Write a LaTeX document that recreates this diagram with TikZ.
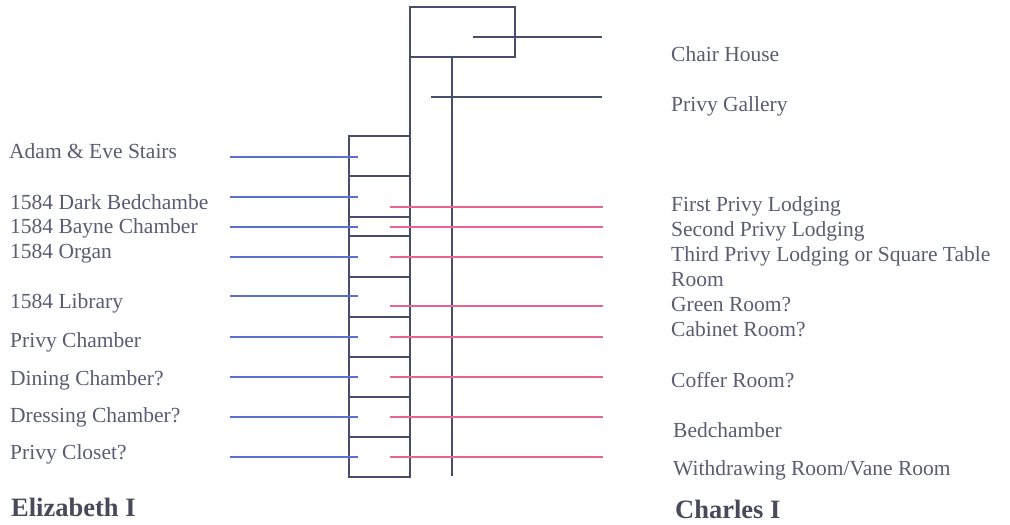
\documentclass[tikz,border=0pt]{standalone}
\usepackage{fontspec}
\setmainfont{Liberation Serif}
\definecolor{txt}{HTML}{595C72}
\definecolor{wall}{HTML}{474D6B}
\definecolor{eliz}{HTML}{5B6FCF}
\definecolor{charl}{HTML}{E8648C}
\tikzset{
  wallline/.style={draw=wall, line width=1.5pt},
  elizline/.style={draw=eliz, line width=1.4pt},
  charlline/.style={draw=charl, line width=1.4pt},
  lbl/.style={anchor=base west, inner sep=0pt, text=txt, font=\fontsize{21.5}{26}\selectfont},
  head/.style={anchor=base west, inner sep=0pt, text=txt!80!black, font=\fontsize{26.5}{30}\selectfont\bfseries}
}
\begin{document}
\begin{tikzpicture}[x=1pt,y=-1pt]
\useasboundingbox (0,0) rectangle (1010,525);
% building outline
\draw[wallline] (410,57) -- (410,7) -- (515,7) -- (515,57) -- (410,57);
\draw[wallline] (410,57) -- (410,477) -- (349,477) -- (349,136) -- (410,136);
\draw[wallline] (452,57) -- (452,476);
\foreach \y in {176,217,236,277,317,357,397,437}
  \draw[wallline] (349,\y) -- (411,\y);
% Charles I upper lines
\draw[wallline] (473,37) -- (602,37);
\draw[wallline] (431,97) -- (602,97);
% Elizabeth lines
\foreach \y in {157,197,227,257,296,337,377,417,457}
  \draw[elizline] (230,\y) -- (358,\y);
% Charles lines
\foreach \y in {207,227,257,306,337,377,417,457}
  \draw[charlline] (390,\y) -- (603,\y);
% left labels
\node[lbl] (l1) at (9,158) {Adam \& Eve Stairs};
\node[lbl] (l2) at (10,209) {1584 Dark Bedchambe};
\node[lbl] (l3) at (10,233) {1584 Bayne Chamber};
\node[lbl] (l4) at (10,258) {1584 Organ};
\node[lbl] (l5) at (10,308) {1584 Library};
\node[lbl] (l6) at (10,347) {Privy Chamber};
\node[lbl] (l7) at (10,385) {Dining Chamber?};
\node[lbl] (l8) at (10,422) {Dressing Chamber?};
\node[lbl] (l9) at (10,459) {Privy Closet?};
\node[head] (eliz) at (11,516) {Elizabeth I};
% right labels
\node[lbl] (r1) at (671,61) {Chair House};
\node[lbl] (r2) at (671,111) {Privy Gallery};
\node[lbl] (r3) at (671,211) {First Privy Lodging};
\node[lbl] (r4) at (671,236) {Second Privy Lodging};
\node[lbl] (r5) at (671,261) {Third Privy Lodging or Square Table};
\node[lbl] (r6) at (671,286) {Room};
\node[lbl] (r7) at (671,311) {Green Room?};
\node[lbl] (r8) at (671,336) {Cabinet Room?};
\node[lbl] (r9) at (671,387) {Coffer Room?};
\node[lbl] (r10) at (673,437) {Bedchamber};
\node[lbl] (r11) at (673,475) {Withdrawing Room/Vane Room};
\node[head] (charl) at (675,518) {Charles I};
\end{tikzpicture}
\end{document}
